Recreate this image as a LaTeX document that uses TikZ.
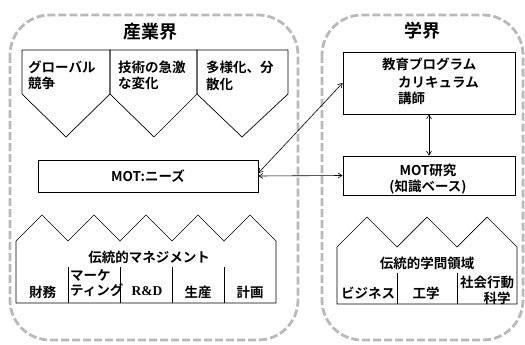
\documentclass[tikz,border=0pt]{standalone}
\usepackage{fontspec}
\setmainfont{Noto Sans CJK JP}[BoldFont={Noto Sans CJK JP Bold}]
\newfontfamily\rdfont{Liberation Serif}
\usetikzlibrary{arrows.meta}
\tikzset{
  outer/.style={draw=gray!55, line width=2.8pt, dash pattern=on 8pt off 3pt, rounded corners=40pt},
  shp/.style={draw=black, line width=0.7pt},
  box/.style={draw=black, line width=0.8pt, fill=white, inner sep=0pt},
  lbl/.style={font=\bfseries\fontsize{13.5}{15}\selectfont, inner sep=0pt},
  ttl/.style={font=\bfseries\fontsize{18}{20}\selectfont, inner sep=0pt},
  arr/.style={{Straight Barb[length=4pt,width=5pt]}-{Straight Barb[length=4pt,width=5pt]}, line width=0.6pt}
}
\begin{document}
\begin{tikzpicture}[x=1pt,y=-1pt]
\useasboundingbox (0,0) rectangle (525,345);
% outer frames
\draw[outer] (10,15) rectangle (298,340);
\draw[outer] (322,15) rectangle (523,340);
% titles
\node[ttl] (t1) at (150,32) {産業界};
\node[ttl] (t2) at (422,31) {学界};
% top pentagons
\draw[shp] (22,50) -- (110,50) -- (110,94) -- (66,137) -- (22,94) -- cycle;
\draw[shp] (110,50) -- (197,50) -- (197,94) -- (154,137) -- (110,94) -- cycle;
\draw[shp] (197,50) -- (288,50) -- (288,94) -- (242,137) -- (197,94) -- cycle;
\node[lbl, anchor=west] (p1a) at (28,67) {グローバル};
\node[lbl, anchor=west] (p1b) at (28,83) {競争};
\node[lbl, anchor=west] (p2a) at (118,67) {技術の急激};
\node[lbl, anchor=west] (p2b) at (118,83) {な変化};
\node[lbl, anchor=west] (p3a) at (206,67) {多様化、分};
\node[lbl, anchor=west] (p3b) at (206,84) {散化};
% MOT needs box
\node[box, minimum width=220pt, minimum height=32pt, font=\bfseries\fontsize{13.5}{15}\selectfont] (mot) at (148,176) {MOT:ニーズ};
% left house
\draw[shp] (16,303) -- (16,241) -- (42,215) -- (68,241) -- (94,215) -- (120,241) -- (146,215) -- (172,241) -- (198,215) -- (224,241) -- (250,215) -- (276,241) -- (276,303) -- cycle;
\foreach \x in {68,120,172,224} \draw[shp] (\x,267) -- (\x,303);
\node[lbl] (h1) at (149,257) {伝統的マネジメント};
\node[lbl] (f1) at (42.5,292) {財務};
\node[lbl, anchor=west] (f2a) at (70,275) {マーケ};
\node[lbl, anchor=west] (f2b) at (70,290) {ティング};
\node[lbl, font=\rdfont\bfseries\fontsize{13.5}{15}\selectfont] (f3) at (147,291) {R\&D};
\node[lbl] (f4) at (198,292) {生産};
\node[lbl] (f5) at (250,292) {計画};
% right boxes
\node[box, minimum width=172pt, minimum height=62pt] (edu) at (429,83) {};
\node[lbl, anchor=west] (e1) at (382,64) {教育プログラム};
\node[lbl, anchor=west] (e2) at (398,82) {カリキュラム};
\node[lbl, anchor=west] (e3) at (398,98) {講師};
\node[box, minimum width=172pt, minimum height=39pt] (res) at (429,175.5) {};
\node[lbl] (r1) at (428,170) {MOT研究};
\node[lbl] (r2) at (428,187) {(知識ベース)};
% right house
\draw[shp] (337,304) -- (337,247) -- (367,217) -- (397,247) -- (427,217) -- (457,247) -- (487,217) -- (517,247) -- (517,304) -- cycle;
\foreach \x in {397,457} \draw[shp] (\x,273) -- (\x,304);
\node[lbl] (h2) at (427,263) {伝統的学問領域};
\node[lbl] (g1) at (368,293) {ビジネス};
\node[lbl] (g2) at (426,293) {工学};
\node[lbl] (g3a) at (487,282) {社会行動};
\node[lbl] (g3b) at (497,298) {科学};
% arrows
\draw[arr] ([yshift=3pt]mot.east) -- ([yshift=0pt]edu.west);
\draw[arr] (mot.east) -- (res.west);
\draw[arr] (edu.south) -- (res.north);
\end{tikzpicture}
\end{document}
